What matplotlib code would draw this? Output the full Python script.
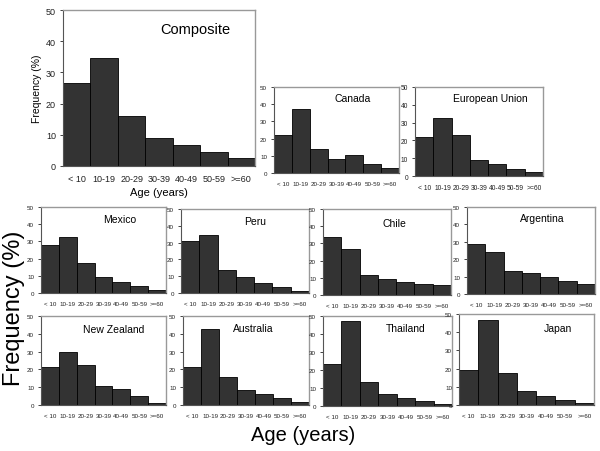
import matplotlib.pyplot as plt

plt.rcParams["font.family"] = ["Liberation Sans", "DejaVu Sans"]

ages = ["< 10", "10-19", "20-29", "30-39", "40-49", "50-59", ">=60"]

composite = [26.5, 34.7, 16.0, 9.0, 6.8, 4.4, 2.6]
canada = [22.0, 37.0, 14.0, 8.2, 10.5, 5.5, 3.0]
eu = [22.0, 32.5, 23.0, 9.2, 7.0, 4.0, 2.0]
mexico = [28.0, 32.5, 17.5, 9.5, 6.5, 3.8, 1.5]
peru = [31.0, 34.5, 13.5, 9.3, 5.7, 3.7, 1.3]
chile = [34.0, 26.5, 11.5, 9.3, 7.8, 6.3, 5.8]
argentina = [28.5, 24.0, 13.0, 12.3, 9.5, 7.3, 5.8]
new_zealand = [21.5, 30.0, 22.5, 10.5, 9.0, 5.2, 1.4]
australia = [21.5, 42.5, 16.0, 8.2, 6.0, 4.0, 1.5]
thailand = [23.5, 47.5, 13.5, 6.5, 4.5, 2.7, 1.3]
japan = [19.3, 46.5, 17.5, 7.8, 4.8, 2.8, 1.2]

W, H = 600, 452
fig = plt.figure(figsize=(6, 4.52), dpi=100)

# (name, values, left, right, top, bottom in pixels, title x, title y, title size, tick size)
panels = [
    ("Composite", composite, 63, 255, 11, 167, 0.69, 0.88, 10.5, 6.5),
    ("Canada", canada, 274, 399, 88, 174, 0.63, 0.87, 7.5, 4.5),
    ("European Union", eu, 415, 543, 88, 177, 0.59, 0.88, 7.5, 4.8),
    ("Mexico", mexico, 41, 166, 208, 294, 0.63, 0.86, 7.5, 4.5),
    ("Peru", peru, 181, 309, 210, 294, 0.58, 0.86, 7.5, 4.5),
    ("Chile", chile, 323, 451, 210, 296, 0.56, 0.84, 7.5, 4.5),
    ("Argentina", argentina, 467, 595, 208, 295, 0.59, 0.87, 7.5, 4.5),
    ("New Zealand", new_zealand, 41, 166, 317, 406, 0.58, 0.85, 7.5, 4.5),
    ("Australia", australia, 183, 309, 317, 406, 0.56, 0.87, 7.5, 4.5),
    ("Thailand", thailand, 323, 452, 317, 407, 0.64, 0.87, 7.5, 4.5),
    ("Japan", japan, 459, 594, 315, 406, 0.73, 0.85, 7.5, 4.5),
]

for name, vals, l, r, t, b, tx, ty, tsize, ksize in panels:
    ax = fig.add_axes([l / W, 1 - b / H, (r - l) / W, (b - t) / H])
    ax.bar(range(len(ages)), vals, width=1.0, color="#333333",
           edgecolor="black", linewidth=0.6)
    ax.set_xlim(-0.5, len(ages) - 0.5)
    ax.set_ylim(0, 50)
    ax.set_yticks([0, 10, 20, 30, 40, 50])
    ax.set_xticks(range(len(ages)))
    ax.set_xticklabels(ages)
    ax.tick_params(axis="x", length=0, labelsize=ksize, pad=6, colors="#222222")
    ax.tick_params(axis="y", length=2, width=0.6, labelsize=ksize, pad=3, colors="#222222")
    for side in ["top", "right"]:
        ax.spines[side].set_color("#999999")
        ax.spines[side].set_linewidth(1.0)
    ax.spines["left"].set_color("#555555")
    ax.spines["bottom"].set_color("#555555")
    ax.text(tx, ty, name, transform=ax.transAxes, ha="center", va="center",
            fontsize=tsize)
    if name == "Composite":
        ax.set_ylabel("Frequency (%)", fontsize=7.5, labelpad=3)
        ax.set_xlabel("Age (years)", fontsize=8, labelpad=3)

fig.text(14 / W, 1 - 308 / H, "Frequency (%)", rotation=90, ha="center",
         va="center", fontsize=17)
fig.text(303 / W, 1 - 436 / H, "Age (years)", ha="center", va="center",
         fontsize=14.5)

fig.savefig("out.png", dpi=100)
